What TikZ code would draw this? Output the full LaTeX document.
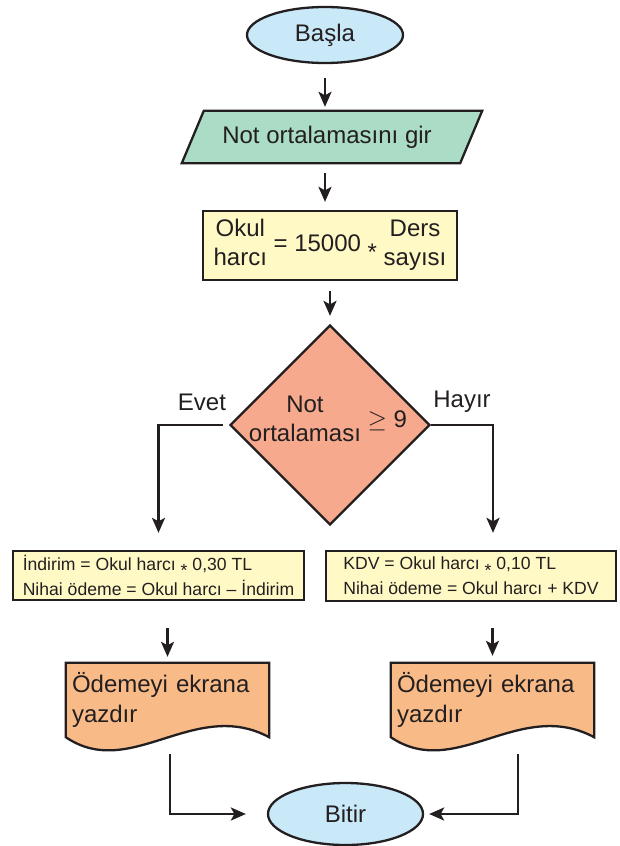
\documentclass[tikz,border=0pt]{standalone}
\usepackage{fontspec}
\setmainfont{Liberation Sans}
\usetikzlibrary{arrows.meta,shapes.geometric,calc,backgrounds}

\definecolor{ink}{HTML}{231F20}
\definecolor{termblue}{HTML}{C9E9F8}
\definecolor{inputgreen}{HTML}{AADCC6}
\definecolor{procyellow}{HTML}{FFF9C6}
\definecolor{testsalmon}{HTML}{F6A98D}
\definecolor{docorange}{HTML}{F8BB88}

% asterisk set low, as a multiplication sign
\newcommand\lowstar{\raisebox{-0.36em}{*}}

\begin{document}
\begin{tikzpicture}[
  x=1pt, y=-1pt,
  bigtext/.style={font=\fontsize{24}{29}\selectfont, text=ink},
  smalltext/.style={font=\fontsize{17.6}{25}\selectfont, text=ink},
  outline/.style={draw=ink, line width=2.3pt},
  terminal/.style={ellipse, outline, fill=termblue, inner sep=0pt, bigtext},
  procbox/.style={rectangle, outline, fill=procyellow, inner sep=0pt},
  decision/.style={diamond, aspect=1, outline, fill=testsalmon, inner sep=0pt,
    minimum width=200pt, minimum height=200pt},
  flow/.style={draw=ink, line width=2.3pt, -{Stealth[length=15pt,width=13pt,inset=3.5pt]}},
]
\useasboundingbox (0,0) rectangle (620,846);

% start
\node[terminal, minimum width=156pt, minimum height=56pt] (start) at (325,35) {Başla};

% input (parallelogram outline drawn behind the text node)
\node[bigtext, rectangle, inner sep=0pt, minimum width=278pt, minimum height=52pt] (par) at (327,137) {Not ortalamasını gir};
\begin{scope}[on background layer]
  \filldraw[outline, fill=inputgreen, line join=miter]
    ($(par.south west)+(-6,0)$) -- ($(par.north west)+(16,0)$) --
    ($(par.north east)+(16,0)$) -- ($(par.south east)+(-6,0)$) -- cycle;
\end{scope}

% fee calculation
\node[procbox, bigtext, minimum width=254pt, minimum height=69pt] (harc) at (330,245.5)
  {\begin{tabular}{@{}c@{}}Okul\\harcı\end{tabular} = 15000 \lowstar{} \begin{tabular}{@{}c@{}}Ders\\sayısı\end{tabular}};

% decision
\node[decision] (test) at (330,425) {};
\node[bigtext, inner sep=0pt] (testtext) at (328,421)
  {\begin{tabular}{@{}c@{}}Not\\ortalaması\end{tabular} $\geq$ 9};
\node[bigtext, inner sep=0pt] (yes) at (202,402) {Evet};
\node[bigtext, inner sep=0pt] (no) at (462,402) {Hayır};

% branch computations
\node[procbox, smalltext, align=left, minimum width=291pt, minimum height=49pt] (indirim) at (158.5,575.5)
  {İndirim = Okul harcı \lowstar{} 0,30 TL\\Nihai ödeme = Okul harcı – İndirim};
\node[procbox, smalltext, align=left, minimum width=290pt, minimum height=50pt] (kdv) at (471,576)
  {KDV = Okul harcı \lowstar{} 0,10 TL\\Nihai ödeme = Okul harcı + KDV};

% output documents
\node[rectangle, inner xsep=6pt, inner ysep=0pt, minimum width=203pt, minimum height=74pt,
      text width=191pt, align=left, font=\fontsize{24}{30}\selectfont, text=ink] (doc1) at (167.5,700)
  {Ödemeyi ekrana\\yazdır};
\node[rectangle, inner xsep=6pt, inner ysep=0pt, minimum width=203pt, minimum height=74pt,
      text width=191pt, align=left, font=\fontsize{24}{30}\selectfont, text=ink] (doc2) at (492.5,700)
  {Ödemeyi ekrana\\yazdır};
\begin{scope}[on background layer]
  \foreach \d in {doc1,doc2}
    \filldraw[outline, fill=docorange, line join=miter]
      (\d.north west) -- (\d.north east) -- (\d.south east)
      .. controls ($(\d.south east)+(-75,-40)$) and ($(\d.south west)+(65,44)$) ..
      (\d.south west) -- cycle;
\end{scope}

% end
\node[terminal, minimum width=155pt, minimum height=62pt] (finish) at (345.5,814) {Bitir};

% connectors
\draw[flow] ($(start.south)+(0,14)$) -- ($(start.south |- par.north)+(0,-4)$);
\draw[flow] ($(par.south -| start.south)+(0,10)$) -- ($(harc.north -| start.south)+(0,-8)$);
\draw[flow] ($(harc.south -| test.north)+(0,10)$) -- ($(test.north)+(0,-8)$);

\draw[flow] ($(test.west)+(-6,0)$) -| ($(indirim.north)+(0,-17)$);
\draw[flow] (test.east) -| ($(kdv.north)+(22,-17)$);

\draw[flow] ($(indirim.south -| doc1.north)+(0,27)$) -- ($(doc1.north)+(0,-6)$);
\draw[flow] ($(kdv.south -| doc2.north)+(0,26)$) -- ($(doc2.north)+(0,-7)$);

\coordinate (out1) at ($(doc1.south)+(2.5,17)$);
\coordinate (out2) at ($(doc2.south)+(25.5,17)$);
\draw[flow, shorten >=21pt] (out1) |- (finish);
\draw[flow, shorten >=5pt] (out2) |- (finish);
\end{tikzpicture}
\end{document}
